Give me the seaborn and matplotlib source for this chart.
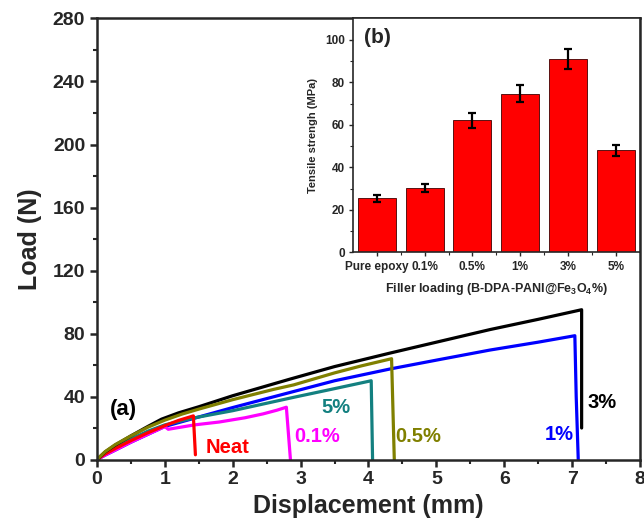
import numpy as np
import pandas as pd
import matplotlib
matplotlib.use("Agg")
import matplotlib.pyplot as plt
from matplotlib.ticker import MultipleLocator, FixedLocator
import seaborn as sns

# ---- main curves (displacement mm, load N) ----
neat_x = [0, 0.12, 0.27, 0.5, 0.75, 1.0, 1.2, 1.42, 1.45]
neat_y = [0, 3.5, 7, 12, 17, 21.5, 24.8, 27.7, 3]
p01_x = [0, 0.12, 0.27, 0.5, 0.75, 1.0, 1.05, 1.44, 1.8, 2.18, 2.45, 2.65, 2.79, 2.85]
p01_y = [0, 2.8, 6, 11, 16, 20.9, 19.2, 22, 23.8, 26.5, 29, 31.3, 33.2, 0]
p05_x = [0, 0.12, 0.27, 0.5, 0.75, 1.0, 1.25, 1.5, 2.0, 2.6, 2.9, 3.5, 3.9, 4.34, 4.38]
p05_y = [0, 5, 9.5, 15, 20.5, 25, 28.8, 32, 38, 44.5, 47.4, 55, 59.5, 64, 0]
p1_x = [0, 0.12, 0.27, 0.5, 0.75, 1.0, 1.5, 2.0, 2.9, 3.5, 4.32, 5.05, 5.79, 6.5, 7.04, 7.06, 7.09]
p1_y = [0, 2.8, 6, 11, 16, 21, 27, 33, 43.2, 50, 57.5, 63.5, 69.5, 74.5, 78.6, 40, 0]
p3_x = [0, 0.12, 0.27, 0.5, 0.75, 0.95, 1.2, 1.5, 2.0, 2.84, 3.5, 4.32, 5.05, 5.79, 6.5, 7.14, 7.14]
p3_y = [0, 4.8, 9.2, 15, 21, 25.6, 29.6, 33.5, 40.5, 51, 59, 67.6, 75.0, 82.5, 89, 95.1, 20]
p5_x = [0, 0.12, 0.27, 0.5, 0.75, 1.0, 1.44, 2.0, 2.9, 3.5, 4.04, 4.06]
p5_y = [0, 4, 8, 13, 18, 22, 26.5, 31, 39.5, 45, 50, 0]

series_names = ["1%", "5%", "0.1%", "Neat", "3%", "0.5%"]
series_colors = ["#0000FF", "#138080", "#FF00FF", "#FF0000", "#000000", "#808000"]

# ---- inset bars ----
categories = ["Pure epoxy", "0.1%", "0.5%", "1%", "3%", "5%"]
strength = [25.4, 30.3, 62.1, 74.6, 91.0, 47.9]
strength_err = [1.5, 1.7, 3.5, 3.9, 4.8, 2.7]

sns.set_style("ticks")
plt.rcParams["font.family"] = ["Liberation Sans", "DejaVu Sans"]
plt.rcParams["font.weight"] = "bold"
plt.rcParams["axes.labelweight"] = "bold"
plt.rcParams["mathtext.fontset"] = "custom"
plt.rcParams["mathtext.rm"] = "Liberation Sans:bold"
plt.rcParams["mathtext.bf"] = "Liberation Sans:bold"
plt.rcParams["mathtext.it"] = "Liberation Sans:bold:italic"

curves = {"Neat": (neat_x, neat_y), "0.1%": (p01_x, p01_y), "0.5%": (p05_x, p05_y),
          "1%": (p1_x, p1_y), "3%": (p3_x, p3_y), "5%": (p5_x, p5_y)}
rows = []
for name in series_names:
    xs, ys = curves[name]
    for i, (a, b) in enumerate(zip(xs, ys)):
        rows.append({"sample": name, "order": i, "disp": a, "load": b})
df = pd.DataFrame(rows)

fig = plt.figure(figsize=(6.44, 5.30), dpi=100)
ax = fig.add_axes([0.1506, 0.133, 0.9938 - 0.1506, 0.9651 - 0.133])
sns.lineplot(data=df, x="disp", y="load", hue="sample", hue_order=series_names,
             palette=dict(zip(series_names, series_colors)), sort=False,
             estimator=None, legend=False, linewidth=2.3, ax=ax)
ax.set_xlim(0, 8)
ax.set_ylim(0, 280)
ax.xaxis.set_major_locator(MultipleLocator(1))
ax.xaxis.set_minor_locator(MultipleLocator(0.5))
ax.yaxis.set_major_locator(MultipleLocator(40))
ax.yaxis.set_minor_locator(MultipleLocator(20))
ax.tick_params(which="major", direction="out", length=5, width=1.8, labelsize=14)
ax.tick_params(which="minor", direction="out", length=3, width=1.5)
for s in ax.spines.values():
    s.set_linewidth(1.8)
    s.set_visible(True)
for lab in ax.get_xticklabels() + ax.get_yticklabels():
    lab.set_fontweight("bold")
ax.set_xlabel("Displacement (mm)", fontsize=18, fontweight="bold", labelpad=4)
ax.set_ylabel("Load (N)", fontsize=18, fontweight="bold", labelpad=8)

ax.text(0.19, 32, "(a)", fontsize=16, fontweight="bold", color="black", va="center")
ax.text(1.6, 7.5, "Neat", fontsize=14.5, fontweight="bold", color="#FF0000", va="center")
ax.text(2.9, 14.5, "0.1%", fontsize=14.5, fontweight="bold", color="#FF00FF", va="center")
ax.text(3.3, 33, "5%", fontsize=14.5, fontweight="bold", color="#138080", va="center")
ax.text(4.4, 14.5, "0.5%", fontsize=14.5, fontweight="bold", color="#808000", va="center")
ax.text(6.6, 16, "1%", fontsize=14.5, fontweight="bold", color="#0000FF", va="center")
ax.text(7.23, 36, "3%", fontsize=14.5, fontweight="bold", color="#000000", va="center")

# ---- inset ----
bdf = pd.DataFrame({"cat": categories, "val": strength})
ins = fig.add_axes([353 / 644, (530 - 252.3) / 530, 639.5 / 644 - 353 / 644, 0.9651 - (530 - 252.3) / 530])
sns.barplot(data=bdf, x="cat", y="val", order=categories, color="#FF0000",
            saturation=1, width=0.8, edgecolor="#400000", linewidth=0.6, ax=ins)
cx = [p.get_x() + p.get_width() / 2 for p in ins.patches]
ins.errorbar(cx, strength, yerr=strength_err, fmt="none", ecolor="black",
             elinewidth=1.6, capsize=3, capthick=1.6)
ins.set_xlim(-0.5, 5.5)
ins.set_ylim(0, 110)
ins.yaxis.set_major_locator(MultipleLocator(20))
ins.yaxis.set_minor_locator(MultipleLocator(10))
ins.xaxis.set_minor_locator(FixedLocator([0.5, 1.5, 2.5, 3.5, 4.5]))
ins.tick_params(which="major", direction="out", length=3, width=1.0, labelsize=8.5, pad=3)
ins.tick_params(which="minor", direction="out", length=2, width=0.8)
for lab in ins.get_xticklabels() + ins.get_yticklabels():
    lab.set_fontweight("bold")
for s in ins.spines.values():
    s.set_linewidth(1.2)
    s.set_visible(True)
ins.set_xlabel("Filler loading (B-DPA-PANI@Fe$_{3}$O$_{4}$%)", fontsize=9, fontweight="bold", labelpad=6)
ins.set_ylabel("Tensile strengh (MPa)", fontsize=8, fontweight="bold", labelpad=5)
ins.text(0.04, 0.96, "(b)", transform=ins.transAxes, fontsize=15, fontweight="bold",
         va="top", ha="left")

fig.savefig("out.png", dpi=100)
